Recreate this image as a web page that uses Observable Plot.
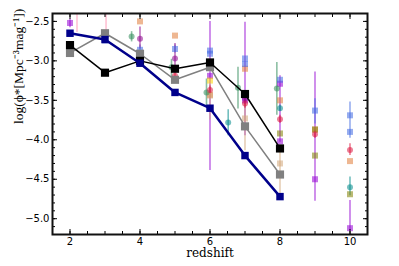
<!DOCTYPE html>
<html><head><meta charset="utf-8">
<script src="https://cdn.jsdelivr.net/npm/d3@7"></script>
<script src="https://cdn.jsdelivr.net/npm/@observablehq/plot@0.6"></script>
<style>body{margin:0;background:#fff}</style>
</head><body><div id="chart"></div>
<script>
// main series (connected)
const zMain = [2, 3, 4, 5, 6, 7, 8];
const navyY = [-2.65, -2.73, -3.03, -3.40, -3.60, -4.20, -4.72];
const blackY = [-2.80, -3.15, -3.00, -3.10, -3.02, -3.42, -4.11];
const grayY = [-2.90, -2.65, -2.91, -3.24, -3.08, -3.83, -4.44];

// literature points
const violetZ = [2, 6, 7, 8, 8, 9, 10];
const violetY = [-2.52, -3.19, -3.50, -3.29, -4.02, -4.50, -5.12];
const violetLo = [-2.58, -4.39, -3.95, -4.03, null, -4.78, -5.15];
const violetHi = [-2.47, -2.50, -2.51, -3.19, null, -3.14, -4.77];

const blueZ = [3, 4, 5, 6, 6, 7, 7, 8, 9, 10, 10];
const blueY = [-2.74, -2.86, -2.85, -2.87, -2.91, -2.97, -3.04, -3.24, -3.63, -3.69, -3.90];
const blueLo = [null, -2.92, -2.90, null, null, null, null, null, -3.80, -3.98, null];
const blueHi = [null, -2.80, -2.80, null, null, null, null, null, -3.48, -3.52, null];

const orangeZ = [4, 5, 6, 7, 8, 9, 10];
const orangeY = [-2.50, -2.68, -3.43, -3.10, -3.50, -3.87, -4.27];

const crimsonZ = [5, 6, 7, 8, 9, 10];
const crimsonY = [-3.19, -3.37, -3.54, -3.74, -3.93, -4.13];
const crimsonLo = [-3.24, -3.42, -3.60, -3.79, -3.98, -4.20];
const crimsonHi = [-3.14, -3.32, -3.48, -3.69, -3.88, -4.05];

const tealZ = [6.52, 8, 10];
const tealY = [-3.78, -3.60, -4.60];
const tealLo = [-3.95, -3.64, -4.71];
const tealHi = [-3.62, -3.56, -4.47];

const greenZ = [3.76, 4.9, 5.9, 6.8, 7.91];
const greenY = [-2.69, -3.08, -3.40, -3.34, -3.35];
const greenLo = [-2.76, -3.22, -3.59, -3.61, -3.69];
const greenHi = [-2.63, -2.98, -3.23, -3.08, -3.02];

const magentaZ = [4, 5, 7];
const magentaY = [-2.72, -2.97, -3.48];
const magentaLo = [-2.85, -3.10, -3.55];
const magentaHi = [-2.57, -2.78, -3.40];

const yellowZ = [6];
const yellowY = [-3.25];

const tanZ = [6, 7, 8];
const tanY = [-3.44, -3.73, -4.30];
const tanLo = [-3.75, -4.14, -4.75];
const tanHi = [-3.30, -3.45, -4.10];

const oliveZ = [8, 9, 9, 10];
const oliveY = [-3.92, -3.87, -4.20, -4.69];

const pinkZ = [2.2, 3.03];
const pinkY = [-2.30, -2.30];
const pinkLo = [-2.64, -2.70];
const pinkHi = [-2.00, -2.00];

const xMajor = [2, 4, 6, 8, 10];
const xMinor = d3.range(1.5, 10.51, 0.5);
const yMajor = [-5.0, -4.5, -4.0, -3.5, -3.0, -2.5];
const yMinor = d3.range(-5.2, -2.39, 0.1).map(v => Math.round(v * 10) / 10);

function rows(color, symbol, z, y, lo, hi) {
  return z.map((d, i) => ({color, symbol, z: d, y: y[i],
    lo: lo ? lo[i] : null, hi: hi ? hi[i] : null}));
}
const pts = [
  ...rows("#ff8fb0", "circle", pinkZ, pinkY, pinkLo, pinkHi),
  ...rows("#9400d3", "square", violetZ, violetY, violetLo, violetHi),
  ...rows("#2e8b57", "circle", greenZ, greenY, greenLo, greenHi),
  ...rows("#e07b39", "square", orangeZ, orangeY),
  ...rows("#4169e1", "square", blueZ, blueY, blueLo, blueHi),
  ...rows("#8b008b", "circle", magentaZ, magentaY, magentaLo, magentaHi),
  ...rows("#ffd700", "square", yellowZ, yellowY),
  ...rows("#d2a679", "square", tanZ, tanY, tanLo, tanHi),
  ...rows("#dc143c", "circle", crimsonZ, crimsonY, crimsonLo, crimsonHi),
  ...rows("#008b8b", "circle", tealZ, tealY, tealLo, tealHi),
  ...rows("#808000", "square", oliveZ, oliveY)
];
const errs = pts.filter(d => d.lo != null);
const main = [
  ...zMain.map((z, i) => ({s: "gray", z, y: grayY[i]})),
  ...zMain.map((z, i) => ({s: "black", z, y: blackY[i]})),
  ...zMain.map((z, i) => ({s: "navy", z, y: navyY[i]}))
];
const mainStyle = {gray: ["#808080", 1.5, 4.6], black: ["#000000", 1.5, 4.6], navy: ["#00008b", 2.5, 4.2]};

const tickFont = "DejaVu Sans";
const serif = "DejaVu Serif";

const chart = Plot.plot({
  width: 399, height: 266,
  marginLeft: 52, marginRight: 32, marginTop: 13, marginBottom: 32,
  x: {domain: [1.5, 10.5]},
  y: {domain: [-5.2, -2.4]},
  color: {type: "identity"},
  style: {fontFamily: tickFont, fontSize: "10px", color: "#000", background: "#fff"},
  marks: [
    Plot.ruleX(errs, {x: "z", y1: "lo", y2: "hi", stroke: "color", strokeOpacity: 0.55, strokeWidth: 1.6, clip: true}),
    Plot.dot(pts.filter(d => d.symbol === "square"), {x: "z", y: "y", symbol: "square", r: 3.4, fill: "color", fillOpacity: 0.55, stroke: "none", clip: true}),
    Plot.dot(pts.filter(d => d.symbol === "circle"), {x: "z", y: "y", r: 3, fill: "color", fillOpacity: 0.55, stroke: "none", clip: true}),
    ...["gray", "black", "navy"].map(s => [
      Plot.line(main.filter(d => d.s === s), {x: "z", y: "y", stroke: mainStyle[s][0], strokeWidth: mainStyle[s][1]}),
      Plot.dot(main.filter(d => d.s === s), {x: "z", y: "y", symbol: "square", r: mainStyle[s][2], fill: mainStyle[s][0], stroke: "none"})
    ]).flat(),
    Plot.axisX({ticks: xMajor, tickSize: -5, tickPadding: 8, tickFormat: d => d, fontSize: 10, label: null}),
    Plot.axisX({ticks: xMinor, tickSize: -3, tickFormat: () => "", label: null}),
    Plot.axisX({anchor: "top", ticks: xMajor, tickSize: -5, tickFormat: () => "", label: null}),
    Plot.axisX({anchor: "top", ticks: xMinor, tickSize: -3, tickFormat: () => "", label: null}),
    Plot.axisY({ticks: yMajor, tickSize: -5, tickPadding: 8, tickFormat: d => d.toFixed(1).replace("-", "\u2212"), fontSize: 10, label: null}),
    Plot.axisY({ticks: yMinor, tickSize: -3, tickFormat: () => "", label: null}),
    Plot.axisY({anchor: "right", ticks: yMajor, tickSize: -5, tickFormat: () => "", label: null}),
    Plot.axisY({anchor: "right", ticks: yMinor, tickSize: -3, tickFormat: () => "", label: null}),
    Plot.frame({stroke: "#111", strokeWidth: 2}),
    Plot.text(["redshift"], {frameAnchor: "bottom", dy: 22, fontFamily: serif, fontSize: 12, fill: "#000"}),
    Plot.text(["log(\u03d5*[Mpc\u207b\u00b3mag\u207b\u00b9])"], {frameAnchor: "left", dx: -34, rotate: -90, fontFamily: "Liberation Serif", fontSize: 13.5, fill: "#000"})
  ]
});
document.getElementById("chart").appendChild(chart);
</script>
</body></html>
